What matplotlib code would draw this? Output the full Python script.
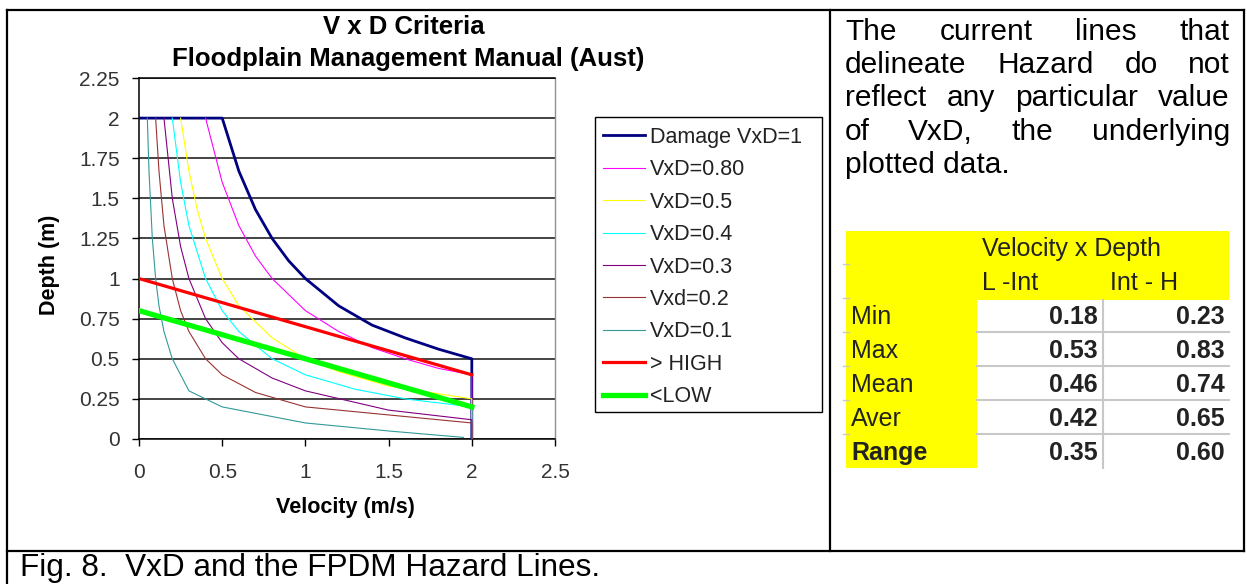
import matplotlib
matplotlib.use("Agg")
import matplotlib.pyplot as plt
from matplotlib.patches import Rectangle

plt.rcParams['font.family'] = ['Liberation Sans', 'DejaVu Sans']

# curve data: velocity (m/s) vs depth (m)
v_damage = [0, 0.5, 0.6, 0.7, 0.8, 0.9, 1.0, 1.2, 1.4, 1.6, 1.8, 2.0, 2.0]
d_damage = [2, 2, 1.67, 1.43, 1.25, 1.11, 1.0, 0.83, 0.71, 0.63, 0.56, 0.5, 0]
v_08 = [0.4, 0.5, 0.6, 0.7, 0.8, 1.0, 1.2, 1.4, 1.6, 1.8, 2.0, 2.0]
d_08 = [2, 1.6, 1.33, 1.14, 1.0, 0.8, 0.67, 0.57, 0.5, 0.44, 0.4, 0]
v_05 = [0.25, 0.3, 0.35, 0.4, 0.5, 0.6, 0.8, 1.0, 1.2, 1.5, 2.0, 2.0]
d_05 = [2, 1.67, 1.43, 1.25, 1.0, 0.83, 0.63, 0.5, 0.42, 0.33, 0.25, 0]
v_04 = [0.2, 0.25, 0.3, 0.4, 0.5, 0.6, 0.8, 1.0, 1.3, 1.6, 2.0, 2.0]
d_04 = [2, 1.6, 1.33, 1.0, 0.8, 0.67, 0.5, 0.4, 0.31, 0.25, 0.2, 0]
v_03 = [0.15, 0.2, 0.25, 0.3, 0.4, 0.5, 0.6, 0.8, 1.0, 1.5, 2.0, 2.0]
d_03 = [2, 1.5, 1.2, 1.0, 0.75, 0.6, 0.5, 0.38, 0.3, 0.18, 0.12, 0]
v_02 = [0.1, 0.12, 0.15, 0.2, 0.25, 0.3, 0.4, 0.5, 0.7, 1.0, 1.5, 2.0, 2.0]
d_02 = [2, 1.67, 1.33, 1.0, 0.8, 0.67, 0.5, 0.4, 0.29, 0.2, 0.15, 0.1, 0]
v_01 = [0.05, 0.06, 0.08, 0.1, 0.12, 0.15, 0.2, 0.3, 0.5, 1.0, 1.5, 1.95]
d_01 = [2, 1.67, 1.25, 1.0, 0.83, 0.67, 0.5, 0.3, 0.2, 0.1, 0.05, 0.01]
v_high = [0, 2]
d_high = [1.0, 0.4]
v_low = [0, 2]
d_low = [0.8, 0.2]

series_labels = ['Damage VxD=1', 'VxD=0.80', 'VxD=0.5', 'VxD=0.4', 'VxD=0.3',
                 'Vxd=0.2', 'VxD=0.1', '> HIGH', '<LOW']
series_colors = ['#000080', '#FF00FF', '#FFFF00', '#00FFFF', '#800080',
                 '#993333', '#339999', '#FF0000', '#00FF00']
series_widths = [2.0, 0.8, 0.8, 0.8, 0.8, 0.8, 0.8, 2.3, 3.8]

x_ticks = [0, 0.5, 1, 1.5, 2, 2.5]
x_ticklabels = ['0', '0.5', '1', '1.5', '2', '2.5']
y_ticks = [0, 0.25, 0.5, 0.75, 1, 1.25, 1.5, 1.75, 2, 2.25]
y_ticklabels = ['0', '0.25', '0.5', '0.75', '1', '1.25', '1.5', '1.75', '2', '2.25']

# table values
row_names = ['Min', 'Max', 'Mean', 'Aver', 'Range']
l_int = ['0.18', '0.53', '0.46', '0.42', '0.35']
int_h = ['0.23', '0.83', '0.74', '0.65', '0.60']

para_lines = ['The current lines that',
              'delineate Hazard do not',
              'reflect any particular value',
              'of VxD, the underlying',
              'plotted data.']

W, H = 1247, 584
fig = plt.figure(figsize=(W / 100, H / 100), dpi=100)

# background axes in pixel coordinates for borders, text and the table
bg = fig.add_axes([0, 0, 1, 1])
bg.set_xlim(0, W)
bg.set_ylim(H, 0)
bg.axis('off')

# chart
ax = fig.add_axes([139 / W, (H - 439) / H, (555 - 139) / W, (439 - 78) / H])
curves = [(v_damage, d_damage), (v_08, d_08), (v_05, d_05), (v_04, d_04),
          (v_03, d_03), (v_02, d_02), (v_01, d_01), (v_high, d_high), (v_low, d_low)]
for (vv, dd), lab, col, lw in zip(curves, series_labels, series_colors, series_widths):
    ax.plot(vv, dd, color=col, lw=lw, label=lab, zorder=3)

ax.set_xlim(0, 2.5)
ax.set_ylim(0, 2.25)
ax.set_xticks(x_ticks)
ax.set_xticklabels(x_ticklabels)
ax.set_yticks(y_ticks)
ax.set_yticklabels(y_ticklabels)
ax.yaxis.grid(True, color='#111111', lw=1.1)
ax.set_axisbelow(True)
ax.tick_params(axis='x', direction='out', length=5, width=1, pad=12, labelsize=15, labelcolor='#333333')
ax.tick_params(axis='y', direction='out', length=5, width=1, pad=9, labelsize=15, labelcolor='#333333')
for s in ['left', 'bottom', 'top']:
    ax.spines[s].set_color('#000000')
    ax.spines[s].set_linewidth(1.1)
ax.spines['right'].set_color('#909090')
ax.spines['right'].set_linewidth(1.0)

bg.text(404, 27, 'V x D Criteria', ha='center', va='center', fontsize=18.5, weight='bold')
bg.text(408, 59, 'Floodplain Management Manual (Aust)', ha='center', va='center',
        fontsize=18.5, weight='bold')
bg.text(345, 508, 'Velocity (m/s)', ha='center', va='center', fontsize=15.5, weight='bold')
bg.text(50, 265, 'Depth (m)', ha='center', va='center', fontsize=15.5, weight='bold',
        rotation=90)

# legend box drawn separately to match the spreadsheet frame
bg.add_patch(Rectangle((595, 117), 822 - 595, 412 - 117, facecolor='white',
                       edgecolor='#000000', lw=1.0, zorder=4))
leg = ax.legend(loc='upper left', bbox_to_anchor=(595 / W, 1 - 119 / H),
                bbox_transform=fig.transFigure, borderaxespad=0, fontsize=15.5,
                frameon=False, handlelength=1.95, handletextpad=0.25,
                labelspacing=0.53, borderpad=0.37)
leg.set_zorder(5)
for t in leg.get_texts():
    t.set_color('#222222')

# table borders
bcol = '#000000'
blw = 1.6
bg.plot([7, 1244], [10, 10], color=bcol, lw=blw)
bg.plot([7, 7], [10, H], color=bcol, lw=blw)
bg.plot([830, 830], [10, 551], color=bcol, lw=blw)
bg.plot([1244, 1244], [10, 551], color=bcol, lw=blw)
bg.plot([7, 1244], [551, 551], color=bcol, lw=blw)

bg.text(20, 568, 'Fig. 8.  VxD and the FPDM Hazard Lines.', ha='left', va='center',
        fontsize=22.7)

# justified paragraph
renderer = fig.canvas.get_renderer()
x0, x1 = 845, 1230
para_y = [32, 65, 98, 132, 165]
for line, y in zip(para_lines, para_y):
    words = line.split()
    if line == para_lines[-1]:
        bg.text(x0, y, line, ha='left', va='center', fontsize=21.5)
        continue
    txts = [bg.text(0, y, w, ha='left', va='center', fontsize=21.5) for w in words]
    widths = [t.get_window_extent(renderer=renderer).width for t in txts]
    gap = (x1 - x0 - sum(widths)) / (len(words) - 1)
    xpos = x0
    for t, wd in zip(txts, widths):
        t.set_x(xpos)
        xpos += wd + gap

# spreadsheet table
yellow = '#FFFF00'
grey = '#C8C8C8'
bg.add_patch(Rectangle((846, 231), 1229 - 846, 468 - 231, facecolor=yellow, edgecolor='none'))
bg.add_patch(Rectangle((977, 300), 1229 - 977, 468 - 300, facecolor='white', edgecolor='none'))
for yl in [332, 366, 400, 434]:
    bg.plot([977, 1229], [yl, yl], color=grey, lw=1.5)
    bg.plot([843, 849], [yl, yl], color=grey, lw=1.0)
for yl in [264, 298]:
    bg.plot([843, 849], [yl, yl], color=grey, lw=1.0)
bg.plot([1103, 1103], [300, 468], color=grey, lw=1.5)

bg.text(982, 249, 'Velocity x Depth', ha='left', va='center', fontsize=18, color='#222222')
bg.text(982, 283, 'L -Int', ha='left', va='center', fontsize=18, color='#222222')
bg.text(1110, 283, 'Int - H', ha='left', va='center', fontsize=18, color='#222222')
row_y = [317, 351, 385, 419, 453]
for name, a, b, y in zip(row_names, l_int, int_h, row_y):
    bg.text(851, y, name, ha='left', va='center', fontsize=18, color='#222222',
            weight='bold' if name == 'Range' else 'normal')
    bg.text(1098, y, a, ha='right', va='center', fontsize=18, weight='bold', color='#222222')
    bg.text(1225, y, b, ha='right', va='center', fontsize=18, weight='bold', color='#222222')

fig.savefig('out.png', dpi=100)
